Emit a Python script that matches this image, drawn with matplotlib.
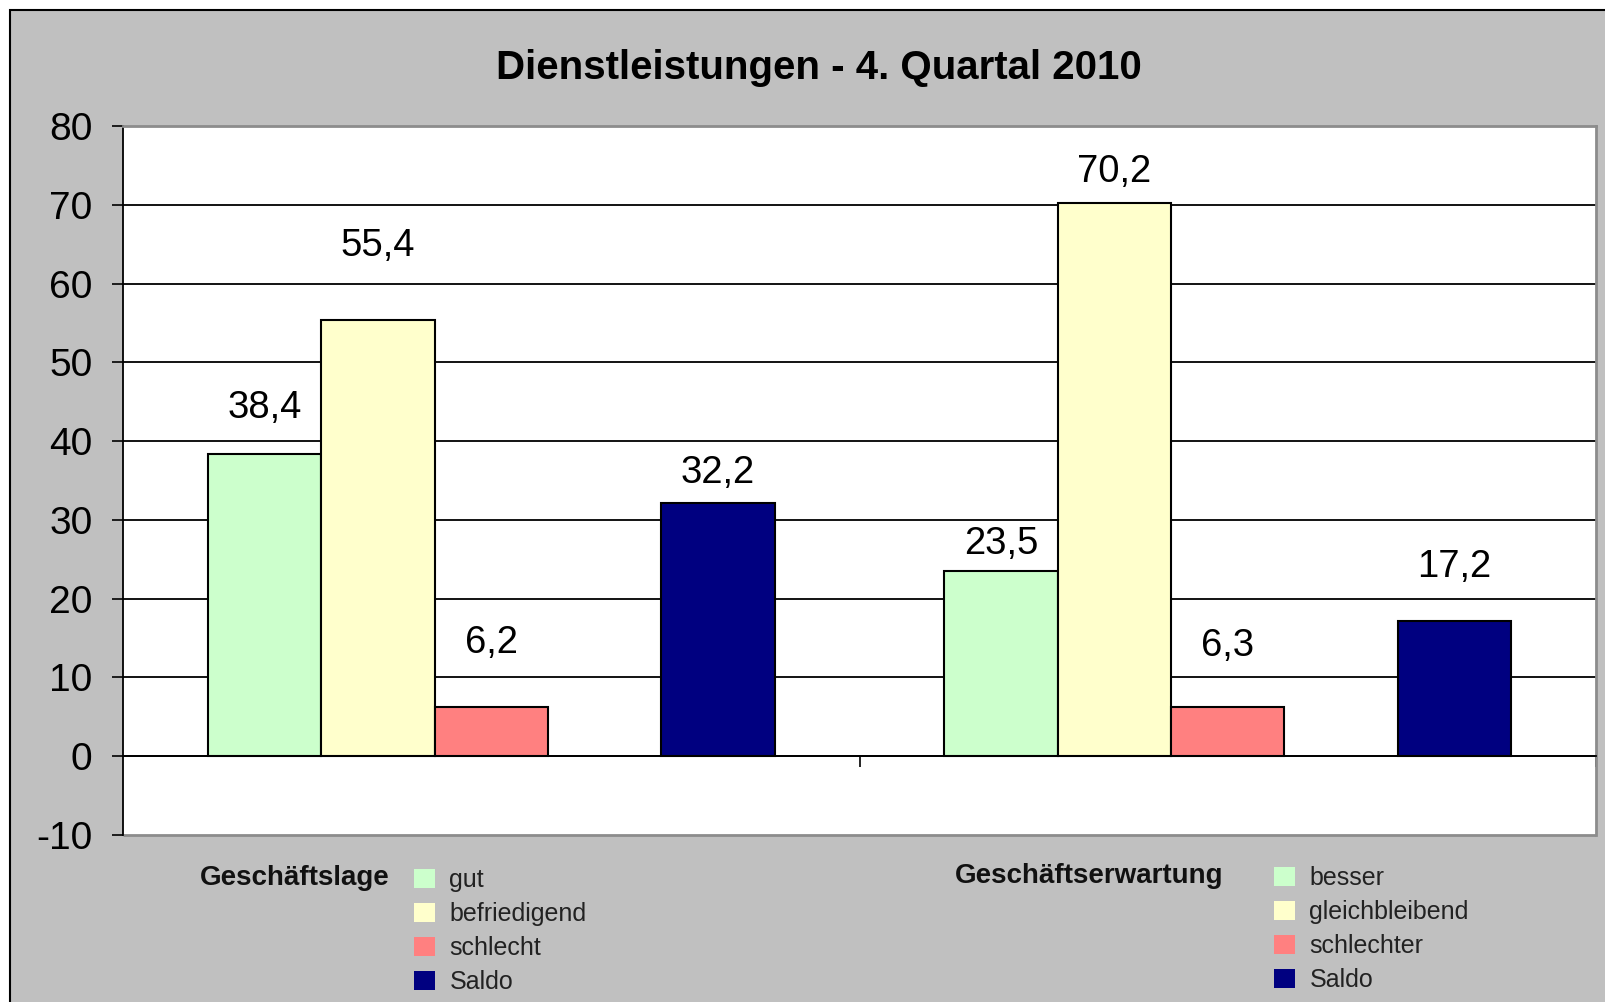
import matplotlib
matplotlib.use("Agg")
import matplotlib.pyplot as plt
from matplotlib.patches import Patch, Rectangle
import numpy as np

plt.rcParams["font.family"] = ["Liberation Sans", "DejaVu Sans"]
plt.rcParams["axes.unicode_minus"] = False

TITLE = "Dienstleistungen - 4. Quartal 2010"
categories = ["Geschäftslage", "Geschäftserwartung"]
labels_lage = ["gut", "befriedigend", "schlecht", "Saldo"]
labels_erwartung = ["besser", "gleichbleibend", "schlechter", "Saldo"]

# values per series, one entry per category
positiv = [38.4, 23.5]
neutral = [55.4, 70.2]
negativ = [6.2, 6.3]
saldo = [32.2, 17.2]
yticks = list(range(-10, 81, 10))

COLORS = ["#CCFFCC", "#FFFFCC", "#FF8080", "#000080"]
SLOTS = [0, 1, 2, 4]  # slot 3 stays empty like in the excel chart
# how far above the bar top the value label sits (data units)
LABEL_OFFSETS = [[5.8, 3.5], [9.4, 4.0], [8.2, 7.7], [3.8, 6.8]]

W, H = 1605, 1002


def fmt(v):
    return f"{v:.1f}".replace(".", ",")


def main():
    fig = plt.figure(figsize=(W / 100, H / 100), dpi=100)
    fig.patch.set_facecolor("white")
    fig.add_artist(
        Rectangle(
            (10 / W, -0.1), 1.2, 1 - 10 / H + 0.1,
            transform=fig.transFigure, facecolor="#C0C0C0",
            edgecolor="black", lw=1.5, zorder=0,
        )
    )

    ax = fig.add_axes([123 / W, 1 - 835 / H, (1596 - 123) / W, (835 - 126) / H])
    ax.set_facecolor("white")

    series = [positiv, neutral, negativ, saldo]
    x = np.arange(len(categories))
    w = 1 / 6.5
    for vals, slot, col, offs in zip(series, SLOTS, COLORS, LABEL_OFFSETS):
        pos = x + (slot - 2) * w
        ax.bar(pos, vals, width=w, color=col, edgecolor="black", lw=1.5, zorder=3)
        for px, v, o in zip(pos, vals, offs):
            ax.text(px, v + o, fmt(v), ha="center", va="center", fontsize=27.5, zorder=4)

    ax.set_xlim(-0.5, 1.5)
    ax.set_ylim(-10, 80)
    ax.set_yticks(yticks)
    ax.tick_params(axis="y", labelsize=28, length=8, width=1.2, pad=14, direction="out")
    for t in yticks:
        if -10 < t < 80:
            ax.axhline(t, color="black", lw=1.3, zorder=1)

    ax.spines["bottom"].set_position(("data", 0))
    ax.spines["bottom"].set_color("black")
    ax.spines["bottom"].set_linewidth(1.3)
    ax.spines["left"].set_color("black")
    ax.spines["left"].set_linewidth(1.3)
    for s in ["top", "right"]:
        ax.spines[s].set_color("#8C8C8C")
        ax.spines[s].set_linewidth(2)
    ax.add_patch(Rectangle((0, 0), 1, 0.0001, transform=ax.transAxes, fill=False,
                           edgecolor="#8C8C8C", lw=2, clip_on=False, zorder=2))
    ax.set_xticks([0.5, 1.5])
    ax.set_xticklabels([])
    ax.tick_params(axis="x", length=8, width=1.2, direction="out")

    fig.text(819 / W, 1 - 68 / H, TITLE, ha="center", va="center",
             fontsize=29, fontweight="bold")

    # legend blocks below the chart
    for name, labels, hx, lx, ly in [
        (categories[0], labels_lage, 200, 414, 868),
        (categories[1], labels_erwartung, 955, 1274, 866),
    ]:
        fig.text(hx / W, 1 - (ly + 10) / H, name, ha="left", va="center",
                 fontsize=20, fontweight="bold", color="#111111")
        handles = [Patch(facecolor=c, edgecolor="none") for c in COLORS]
        fig.legend(handles, labels, loc="upper left", bbox_to_anchor=(lx / W, 1 - ly / H),
                   frameon=False, fontsize=18, handlelength=0.82, handleheight=0.82,
                   handletextpad=0.6, labelspacing=0.4, borderpad=0, borderaxespad=0,
                   labelcolor="#222222")

    fig.savefig("out.png", dpi=100, facecolor=fig.get_facecolor())


if __name__ == "__main__":
    main()
